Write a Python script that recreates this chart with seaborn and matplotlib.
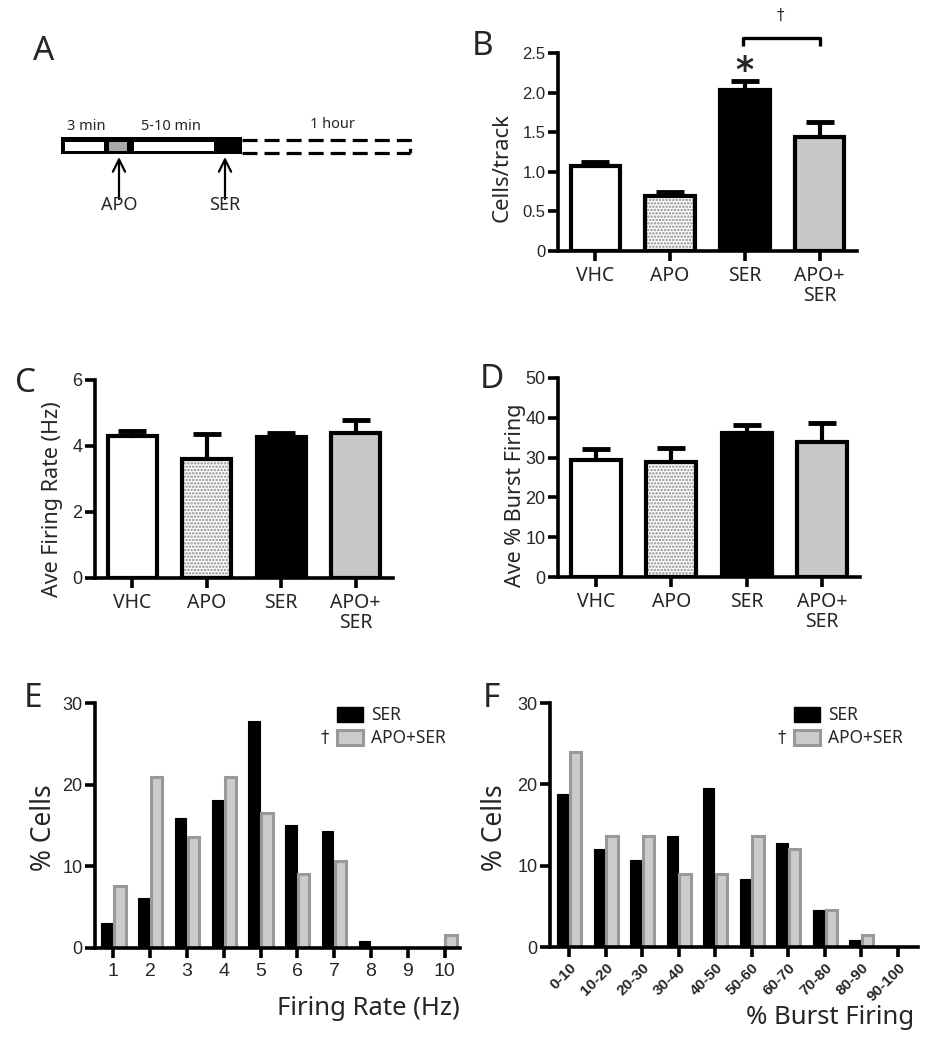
import numpy as np
import pandas as pd
import matplotlib
matplotlib.use("Agg")
import matplotlib.pyplot as plt
from matplotlib.patches import Rectangle
from matplotlib.colors import to_rgba
import seaborn as sns

# ---------------- data ----------------
groups = ["VHC", "APO", "SER", "APO+SER"]
group_labels = ["VHC", "APO", "SER", "APO+\nSER"]

cells_track = [1.07, 0.69, 2.03, 1.44]
cells_track_sem = [0.05, 0.05, 0.12, 0.19]

firing_rate = [4.30, 3.60, 4.28, 4.38]
firing_rate_sem = [0.15, 0.75, 0.10, 0.40]

burst_pct = [29.5, 28.8, 36.3, 34.0]
burst_pct_sem = [2.6, 3.5, 1.9, 4.8]

rate_bins = ["1", "2", "3", "4", "5", "6", "7", "8", "9", "10"]
rate_ser = [3.1, 6.1, 15.9, 18.1, 27.8, 15.1, 14.3, 0.9, 0.0, 0.0]
rate_apo_ser = [7.6, 21.0, 13.6, 21.0, 16.5, 9.1, 10.6, 0.0, 0.0, 1.6]

burst_bins = ["0-10", "10-20", "20-30", "30-40", "40-50",
              "50-60", "60-70", "70-80", "80-90", "90-100"]
burst_ser = [18.8, 12.1, 10.7, 13.6, 19.6, 8.3, 12.8, 4.6, 0.9, 0.0]
burst_apo_ser = [24.0, 13.6, 13.6, 9.0, 9.0, 13.6, 12.1, 4.6, 1.5, 0.0]

series_names = ["SER", "APO+SER"]

# ---------------- style ----------------
sns.set_theme(style="ticks")
TXT = ["Noto Sans", "DejaVu Sans"]
NUM = ["Liberation Sans", "DejaVu Sans"]
plt.rcParams["font.family"] = TXT
plt.rcParams["hatch.linewidth"] = 1.2

BAR_COLORS = ["white", "white", "black", "#c8c8c8"]
SPINE_W = 2.6

W, H = 942, 1050
fig = plt.figure(figsize=(W / 100, H / 100), dpi=100)


def px_axes(l, t, r, b):
    return fig.add_axes([l / W, 1 - b / H, (r - l) / W, (b - t) / H])


def style_axes(ax, yticks, ytick_labels, ysize, xsize):
    for s in ["top", "right"]:
        ax.spines[s].set_visible(False)
    for s in ["left", "bottom"]:
        ax.spines[s].set_linewidth(SPINE_W)
        ax.spines[s].set_color("black")
    ax.set_yticks(yticks)
    ax.set_yticklabels(ytick_labels, fontfamily=NUM, fontsize=ysize)
    ax.tick_params(axis="both", direction="out", length=7, width=SPINE_W,
                   color="black")
    ax.tick_params(axis="y", pad=2)
    ax.tick_params(axis="x", labelsize=xsize, pad=4)
    ax.set_xlabel("")
    ax.set_ylabel("")


def group_bar(ax, values, sems, ylim, yticks, ylabels, ylabel, label_xy,
              ysize=13, lsize=15.5):
    df = pd.DataFrame({"group": groups, "value": values})
    sns.barplot(data=df, x="group", y="value", hue="group",
                palette=BAR_COLORS, width=0.66, edgecolor="black",
                linewidth=3.0, errorbar=None, legend=False, ax=ax, zorder=3)
    # stippled fill on the APO bar
    apo = ax.containers[1].patches[0]
    apo.set_hatch(".....")
    if hasattr(apo, "set_hatchcolor"):
        apo.set_hatchcolor("#8a8a8a")
    else:
        apo._hatch_color = to_rgba("#8a8a8a")
    apo.set_facecolor("white")
    ax.errorbar(np.arange(len(groups)), values,
                yerr=[np.zeros(len(groups)), sems], fmt="none",
                ecolor="black", elinewidth=3.0, capsize=10, capthick=3.5,
                zorder=2)
    ax.set_xlim(-0.5, 3.5)
    ax.set_ylim(*ylim)
    style_axes(ax, yticks, ylabels, ysize, 13.5)
    ax.set_xticks(range(len(groups)))
    ax.set_xticklabels(group_labels, fontsize=14, linespacing=0.95,
                       va="top")
    ax.set_ylabel(ylabel, fontsize=lsize, va="center")
    ax.yaxis.set_label_coords(*label_xy)


def hist_bar(ax, cats, ser, apo_ser, xlim, xlabel, xlabel_xy, rotate=False):
    df = pd.DataFrame({
        "bin": cats * 2,
        "pct": ser + apo_ser,
        "series": [series_names[0]] * len(cats) + [series_names[1]] * len(cats),
    })
    sns.barplot(data=df, x="bin", y="pct", hue="series",
                palette={"SER": "black", "APO+SER": "#cbcbcb"},
                width=0.7, gap=0.12, errorbar=None, legend=False, ax=ax,
                zorder=2)
    for p in ax.containers[0].patches:
        p.set_edgecolor("black")
        p.set_linewidth(0.8)
    for p in ax.containers[1].patches:
        p.set_edgecolor("#999999")
        p.set_linewidth(2.2)
    ax.set_xlim(*xlim)
    ax.set_ylim(0, 30)
    style_axes(ax, [0, 10, 20, 30], ["0", "10", "20", "30"], 13, 14)
    ax.set_xticks(range(len(cats)))
    if rotate:
        ax.set_xticklabels(cats, rotation=45, ha="right",
                           rotation_mode="anchor", fontfamily=NUM,
                           fontweight="bold", fontsize=11)
        ax.tick_params(axis="x", pad=3)
    else:
        ax.set_xticklabels(cats, fontfamily=NUM, fontsize=14)
    ax.set_ylabel("% Cells", fontsize=19, va="center")
    ax.yaxis.set_label_coords(-0.14, 0.49)
    ax.set_xlabel(xlabel, fontsize=18.5, ha="right", va="center")
    ax.xaxis.set_label_coords(*xlabel_xy)
    # legend
    handles = [Rectangle((0, 0), 1, 1, facecolor="black", edgecolor="black"),
               Rectangle((0, 0), 1, 1, facecolor="#cbcbcb",
                         edgecolor="#999999", linewidth=2.2)]
    ax.legend(handles, series_names, loc="upper left",
              bbox_to_anchor=(0.645, 1.015), frameon=False, fontsize=12.5,
              handlelength=1.5, handleheight=0.95, handletextpad=0.45,
              labelspacing=0.3, borderaxespad=0)
    ax.text(0.63, 0.862, "\u2020", transform=ax.transAxes, fontsize=12,
            ha="center", va="center", family=["DejaVu Sans"])


# ---------------- Panel B ----------------
axB = px_axes(558, 53, 857, 251)
group_bar(axB, cells_track, cells_track_sem, (0, 2.5),
          [0, 0.5, 1.0, 1.5, 2.0, 2.5], ["0", "0.5", "1.0", "1.5", "2.0", "2.5"],
          "Cells/track", (-0.187, 0.42), ysize=12, lsize=16)
axB.text(2, 2.06, "*", ha="center", va="bottom", fontsize=25,
         fontweight="bold", family=["DejaVu Sans"])
axB.plot([1.97, 1.97, 3.0, 3.0], [2.59, 2.69, 2.69, 2.59], color="black",
         lw=2.4, clip_on=False, solid_capstyle="butt")
axB.text(2.48, 2.98, "\u2020", ha="center", va="center", fontsize=11,
         family=["DejaVu Sans"])

# ---------------- Panel C ----------------
axC = px_axes(95, 380, 393, 578)
group_bar(axC, firing_rate, firing_rate_sem, (0, 6), [0, 2, 4, 6],
          ["0", "2", "4", "6"], "Ave Firing Rate (Hz)", (-0.141, 0.40))

# ---------------- Panel D ----------------
axD = px_axes(558, 378, 860, 577)
group_bar(axD, burst_pct, burst_pct_sem, (0, 50), [0, 10, 20, 30, 40, 50],
          ["0", "10", "20", "30", "40", "50"], "Ave % Burst Firing",
          (-0.142, 0.41))

# ---------------- Panel E ----------------
axE = px_axes(95, 703, 460, 948)
hist_bar(axE, rate_bins, rate_ser, rate_apo_ser, (-0.5, 9.42),
         "Firing Rate (Hz)", (1.0, -0.245))

# ---------------- Panel F ----------------
axF = px_axes(550, 703, 918, 947)
hist_bar(axF, burst_bins, burst_ser, burst_apo_ser, (-0.52, 9.55),
         "% Burst Firing", (0.99, -0.29), rotate=True)
axF.yaxis.set_label_coords(-0.149, 0.49)

# ---------------- overlay: panel A schematic and panel letters ----------------
ov = fig.add_axes([0, 0, 1, 1], zorder=10)
ov.set_xlim(0, W)
ov.set_ylim(H, 0)
ov.axis("off")
ov.patch.set_alpha(0)

# schematic timeline (pixel layout of the drawing)
ov.add_patch(Rectangle((61, 137), 181, 17, facecolor="black", edgecolor="none"))
ov.add_patch(Rectangle((65, 141.5), 39, 9, facecolor="white", edgecolor="none"))
ov.add_patch(Rectangle((109, 141.5), 18, 9, facecolor="#a9a9a9", edgecolor="none"))
ov.add_patch(Rectangle((134, 141.5), 80, 9, facecolor="white", edgecolor="none"))
ov.plot([242, 410, 410], [139.5, 139.5, 152.5], color="black", lw=2.3,
        ls=(0, (4.7, 2.2)))
ov.plot([242, 410], [152.5, 152.5], color="black", lw=2.3, ls=(0, (4.7, 2.2)))
for xa, lab in [(119, "APO"), (225, "SER")]:
    ov.annotate("", xy=(xa, 157), xytext=(xa, 199),
                arrowprops=dict(arrowstyle="->", lw=1.6, color="black",
                                mutation_scale=22, shrinkA=0, shrinkB=0))
    ov.text(xa, 205, lab, ha="center", va="center", fontsize=13)
ov.text(86, 127, "3 min", ha="center", va="center", fontsize=10.5)
ov.text(171, 127, "5-10 min", ha="center", va="center", fontsize=10.5)
ov.text(332, 124, "1 hour", ha="center", va="center", fontsize=10.5)

for lx, ly, letter in [(33, 60, "A"), (472, 55, "B"), (15, 392, "C"),
                       (480, 388, "D"), (24, 707, "E"), (483, 707, "F")]:
    ov.text(lx, ly, letter, ha="left", va="baseline", fontsize=24)

fig.savefig("out.png", dpi=100)
